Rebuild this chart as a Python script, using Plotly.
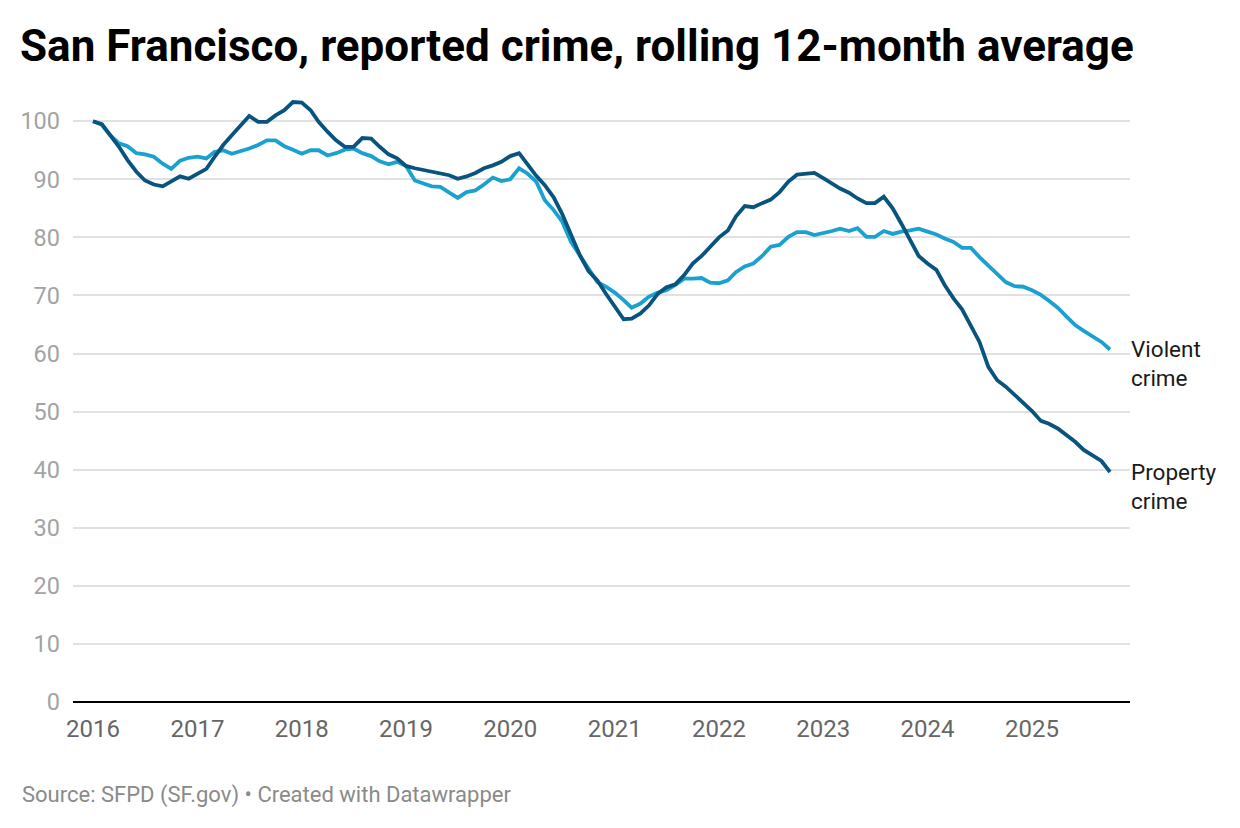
import plotly.graph_objects as go
import pandas as pd

start_month = "2016-01-01"
n_months = 118
months = list(pd.date_range(start_month, periods=n_months, freq="MS"))

property_crime = [
    100.0, 99.5, 97.6, 95.6, 93.3, 91.3, 89.8, 89.1, 88.8, 89.6, 90.5, 90.1,
    90.9, 91.8, 93.8, 95.9, 97.6, 99.3, 100.9, 99.9, 99.9, 101.0, 101.9, 103.3,
    103.2, 101.9, 99.9, 98.2, 96.7, 95.6, 95.6, 97.1, 97.0, 95.6, 94.3, 93.6,
    92.3, 91.9, 91.6, 91.3, 90.9, 90.7, 90.1, 90.5, 91.1, 91.9, 92.4, 93.0,
    94.0, 94.5, 92.6, 90.6, 89.0, 86.9, 84.0, 80.5, 76.9, 74.2, 72.6, 70.3,
    68.2, 65.9, 66.0, 66.9, 68.3, 70.3, 71.4, 71.9, 73.5, 75.5, 76.8, 78.4,
    80.0, 81.2, 83.6, 85.4, 85.2, 85.9, 86.5, 87.8, 89.6, 90.8, 91.0, 91.1,
    90.2, 89.3, 88.4, 87.7, 86.7, 85.9, 85.9, 87.0, 85.0, 82.4, 79.5, 76.8,
    75.5, 74.4, 71.8, 69.5, 67.6, 64.9, 62.0, 57.7, 55.4, 54.3, 52.9, 51.7,
    50.1, 48.4, 47.9, 47.1, 46.0, 44.8, 43.4, 42.5, 41.5, 39.6,
]

violent_crime = [
    100.0, 99.4, 97.6, 96.2, 95.7, 94.5, 94.3, 93.9, 92.7, 91.8, 93.2, 93.7,
    93.9, 93.6, 94.7, 95.0, 94.4, 94.8, 95.3, 95.9, 96.7, 96.7, 95.7, 95.1,
    94.4, 95.0, 95.0, 94.1, 94.5, 95.1, 95.3, 94.5, 94.0, 93.1, 92.6, 93.0,
    92.3, 89.8, 89.3, 88.8, 88.7, 87.7, 86.8, 87.8, 88.1, 89.1, 90.3, 89.7,
    90.0, 91.9, 91.0, 89.6, 86.4, 84.7, 82.7, 79.2, 76.9, 74.6, 72.3, 71.5,
    70.5, 69.2, 67.9, 68.6, 69.8, 70.5, 70.9, 71.8, 72.9, 72.9, 73.0, 72.2,
    72.1, 72.6, 74.0, 75.0, 75.5, 76.8, 78.4, 78.7, 80.1, 80.9, 80.9, 80.4,
    80.7, 81.1, 81.5, 81.1, 81.6, 80.1, 80.1, 81.1, 80.6, 81.0, 81.2, 81.5,
    81.0, 80.5, 79.8, 79.2, 78.2, 78.2, 76.6, 75.2, 73.8, 72.3, 71.6, 71.5,
    70.9, 70.1, 69.1, 67.9, 66.4, 64.9, 63.9, 62.9, 62.0, 60.7,
]

year_ticks = [f"{y}-01-01" for y in range(2016, 2026)]
year_labels = [str(y) for y in range(2016, 2026)]
y_ticks = list(range(0, 101, 10))

DARK = "#08547e"
LIGHT = "#1ba1d0"
FONT = "Roboto"

fig = go.Figure()
fig.add_trace(go.Scatter(x=months, y=violent_crime, mode="lines",
                         line=dict(color=LIGHT, width=3.8), name="Violent crime",
                         hoverinfo="skip"))
fig.add_trace(go.Scatter(x=months, y=property_crime, mode="lines",
                         line=dict(color=DARK, width=3.8), name="Property crime",
                         hoverinfo="skip"))

fig.add_annotation(x=months[-1], y=violent_crime[-1], text="Violent<br>crime",
                   showarrow=False, xanchor="left", yanchor="top", align="left",
                   xshift=19, yshift=15,
                   font=dict(family=FONT, size=22.5, color="#1a1a1a"))
fig.add_annotation(x=months[-1], y=property_crime[-1], text="Property<br>crime",
                   showarrow=False, xanchor="left", yanchor="top", align="left",
                   xshift=19, yshift=15,
                   font=dict(family=FONT, size=22.5, color="#1a1a1a"))

fig.add_annotation(xref="paper", yref="paper", x=-0.0501, y=-0.154,
                   text="Source: SFPD (SF.gov) • Created with Datawrapper",
                   showarrow=False, xanchor="left", yanchor="middle",
                   font=dict(family=FONT, size=22, color="#8a8a8a"))

fig.update_layout(
    width=1240, height=828,
    margin=dict(l=65, r=118, t=90, b=134),
    paper_bgcolor="white", plot_bgcolor="white",
    showlegend=False,
    title=dict(text="San Francisco, reported crime, rolling 12-month average",
               xref="container", yref="container", x=12 / 1240, xanchor="left",
               y=1 - 38 / 828, yanchor="middle",
               font=dict(family=FONT, size=44, color="#000000", weight=700)),
    xaxis=dict(type="date", range=["2015-10-23", "2025-12-10"],
               tickvals=year_ticks, ticktext=year_labels,
               showgrid=False, zeroline=False, showline=False, ticks="",
               ticklabelstandoff=10,
               tickfont=dict(family=FONT, size=24, color="#666666")),
    yaxis=dict(range=[0, 104], tickvals=y_ticks, showgrid=True,
               gridcolor="#e1e1e1", gridwidth=1.5,
               zeroline=True, zerolinecolor="#000000", zerolinewidth=2,
               ticks="", ticklabelstandoff=12,
               tickfont=dict(family=FONT, size=23.5, color="#a3a3a3")),
)

fig.write_html("out.html")
